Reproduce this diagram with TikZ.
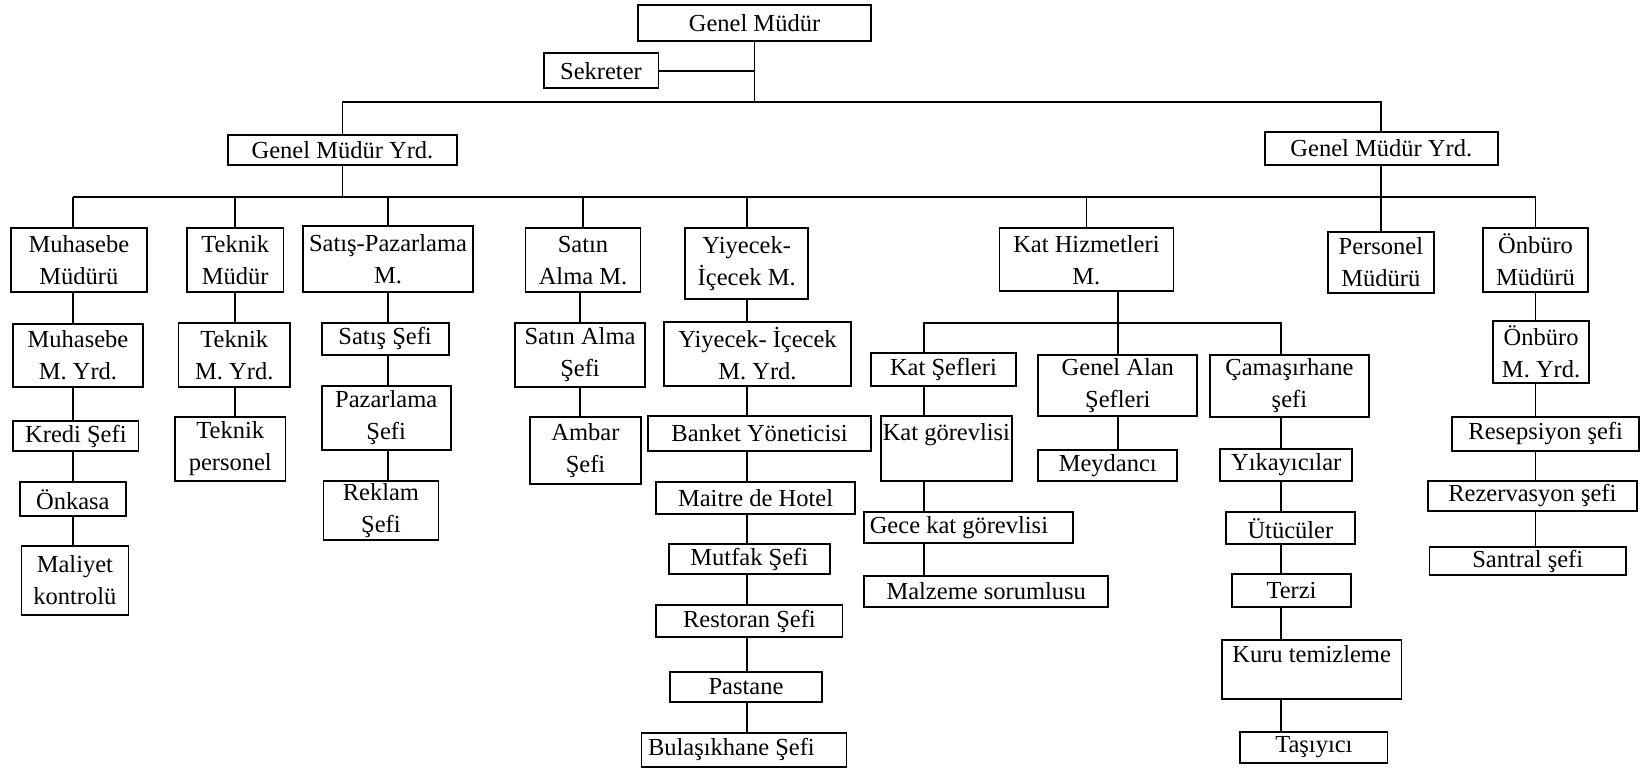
\documentclass[tikz,border=0pt]{standalone}
\usepackage{fontspec}
\setmainfont{Liberation Serif}
\usepackage{tikz}

\begin{document}
\begin{tikzpicture}[x=0.5pt, y=-0.5pt, line width=0.9pt,
    font=\fontsize{12.25}{16}\selectfont,
    box/.style={draw, inner sep=1pt, align=center},
    bsize/.style 2 args={minimum width=#1*0.5pt, minimum height=#2*0.5pt}]
        \useasboundingbox (0,0) rectangle (1644,769);
        % Top of the chart
        \node[box, bsize={233.4}{35.4}] (gm) at (754.5,23) {Genel Müdür};
        \node[box, bsize={114.8}{34.7}] (sek) at (601,70.7) {Sekreter};
        \node[box, bsize={229}{29.7}] (gmyL) at (342.5,150.2) {Genel Müdür Yrd.};
        \node[box, bsize={233}{33.3}] (gmyR) at (1381.3,148.4) {Genel Müdür Yrd.};
        % Department managers
        \node[box, bsize={135.4}{63.7}] (muh) at (78.9,260.2) {Muhasebe\\Müdürü};
        \node[box, bsize={96.4}{64}] (tek) at (235.2,260) {Teknik\\Müdür};
        \node[box, bsize={170.5}{65.7}] (sp) at (388,259.2) {Satış-Pazarlama\\M.};
        \node[box, bsize={114.9}{63.7}] (sa) at (583,260.2) {Satın\\Alma M.};
        \node[box, bsize={122.9}{71}] (yi) at (746.7,263.8) {Yiyecek-\\İçecek M.};
        \node[box, bsize={174}{62.7}] (kh) at (1086.4,259.7) {Kat Hizmetleri\\M.};
        \node[box, bsize={106.4}{61.6}] (per) at (1380.9,262.5) {Personel\\Müdürü};
        \node[box, bsize={105}{63.7}] (onb) at (1535.5,260.2) {Önbüro\\Müdürü};
        % Muhasebe
        \node[box, bsize={129.5}{62.4}] (muhy) at (78,355.5) {Muhasebe\\M. Yrd.};
        \node[box, bsize={125.2}{30.3}] (kredi) at (75.9,436.2) {Kredi Şefi};
        \node[box, bsize={106.3}{33.7}] (onk) at (72.8,499.2) {Önkasa};
        \node[box, bsize={107}{69}] (mal) at (74.9,580.2) {Maliyet\\kontrolü};
        % Teknik
        \node[box, bsize={111.6}{64}] (teky) at (234.3,354.7) {Teknik\\M. Yrd.};
        \node[box, bsize={110.5}{63.7}] (tekp) at (230.3,448.9) {Teknik\\personel};
        % Satis-Pazarlama
        \node[box, bsize={127}{32}] (sats) at (385.1,338.7) {Satış Şefi};
        \node[box, bsize={129}{63.4}] (paz) at (386.2,418) {Pazarlama\\Şefi};
        \node[box, bsize={115}{59.6}] (rek) at (380.9,510.5) {Reklam\\Şefi};
        % Satin Alma
        \node[box, bsize={129.4}{64}] (sas) at (580,354.7) {Satın Alma\\Şefi};
        \node[box, bsize={111}{67}] (amb) at (585.5,450.5) {Ambar\\Şefi};
        % Yiyecek-Icecek
        \node[box, bsize={186.4}{64.3}] (yiy) at (757.5,353.9) {Yiyecek- İçecek\\M. Yrd.};
        \node[box, bsize={222.8}{35.3}] (ban) at (759.6,433.4) {Banket Yöneticisi};
        \node[box, bsize={198.5}{31.7}] (mai) at (755.6,498.2) {Maitre de Hotel};
        \node[box, bsize={161.3}{30}] (mut) at (749.3,559) {Mutfak Şefi};
        \node[box, bsize={186.2}{32}] (res) at (749.4,621) {Restoran Şefi};
        \node[box, bsize={151.5}{30.3}] (pas) at (746,686.9) {Pastane};
        \node[box, bsize={204.9}{34.3}, align=flush left, text width=96pt, inner xsep=3pt]
          (bul) at (744,749.9) {Bulaşıkhane Şefi};
        % Kat Hizmetleri
        \node[box, bsize={145.3}{33.3}] (ks) at (943.4,369.4) {Kat Şefleri};
        \node[box, bsize={129.3}{64.7}] (kg) at (946.4,448.4) {Kat görevlisi\\\mbox{}};
        \node[box, bsize={209}{31}, align=flush left, text width=99pt, inner xsep=2.5pt]
          (gkg) at (968.8,527.8) {Gece kat görevlisi};
        \node[box, bsize={243.7}{31}] (mz) at (986.2,591.2) {Malzeme sorumlusu};
        \node[box, bsize={159}{61.3}] (gas) at (1117.8,385.4) {Genel Alan\\Şefleri};
        \node[box, bsize={139}{31}] (mey) at (1107.8,465.5) {Meydancı};
        \node[box, bsize={159.1}{62.6}] (cam) at (1289.4,386) {Çamaşırhane\\şefi};
        \node[box, bsize={132.3}{31.4}] (yik) at (1286.2,465) {Yıkayıcılar};
        \node[box, bsize={129.1}{31.7}] (utu) at (1290.4,528.2) {Ütücüler};
        \node[box, bsize={118.6}{33.3}] (ter) at (1291.5,590.4) {Terzi};
        \node[box, bsize={179.9}{59.3}] (kuru) at (1311.6,669.7) {Kuru temizleme\\\mbox{}};
        \node[box, bsize={147.3}{31}] (tas) at (1313.9,747.2) {Taşıyıcı};
        % Onburo
        \node[box, bsize={95.8}{61.7}] (onby) at (1541.1,352.2) {Önbüro\\M. Yrd.};
        \node[box, bsize={186.7}{34}] (rsp) at (1545.7,434) {Resepsiyon şefi};
        \node[box, bsize={209.4}{30}] (rez) at (1532.4,495.7) {Rezervasyon şefi};
        \node[box, bsize={196.3}{28.3}] (san) at (1527.7,561.2) {Santral şefi};

        % Bus lines
        \coordinate (bus1) at (0,102);
        \coordinate (bus2) at (0,196.7);
        \coordinate (kbusL) at (924.3,322.7);
        \coordinate (kbusR) at (1281,322.7);

        \draw (gm.south) -- (gm.south |- bus1);
        \draw (sek.east) -- (sek.east -| gm.south);
        \draw (gmyL.north) -- (gmyL.north |- bus1) -- (gmyR.north |- bus1) -- (gmyR.north);
        \draw (gmyL.south) -- (gmyL.south |- bus2);
        \draw (gmyR.south) -- (gmyR.south |- per.north);
        \draw (bus2 -| onk) -- (bus2 -| onb);
        \draw (muh.north -| onk) -- (bus2 -| onk);
        \draw (tek.north) -- (tek.north |- bus2);
        \draw (sp.north) -- (sp.north |- bus2);
        \draw (sa.north) -- (sa.north |- bus2);
        \draw (yi.north) -- (yi.north |- bus2);
        \draw (kh.north) -- (kh.north |- bus2);
        \draw (onb.north) -- (onb.north |- bus2);

        % Muhasebe links
        \draw (muh.south -| onk) -- (muhy.north -| onk);
        \draw (muhy.south -| onk) -- (kredi.north -| onk);
        \draw (kredi.south -| onk) -- (onk.north);
        \draw (onk.south) -- (mal.north -| onk);
        % Teknik links
        \draw (tek.south) -- (tek.south |- teky.north);
        \draw (teky.south -| tek) -- (tekp.north -| tek);
        % Satis links
        \draw (sp.south) -- (sp.south |- sats.north);
        \draw (sats.south -| sp) -- (paz.north -| sp);
        \draw (paz.south -| sp) -- (rek.north -| sp);
        % Satin Alma links
        \draw (sa.south -| sas) -- (sas.north);
        \draw (sas.south) -- (sas.south |- amb.north);
        % Yiyecek links
        \draw (yi.south) -- (yi.south |- yiy.north);
        \draw (yiy.south -| yi) -- (ban.north -| yi);
        \draw (ban.south -| yi) -- (mai.north -| yi);
        \draw (mai.south -| yi) -- (mut.north -| yi);
        \draw (mut.south -| yi) -- (res.north -| yi);
        \draw (res.south -| yi) -- (pas.north -| yi);
        \draw (pas.south -| yi) -- (bul.north -| yi);
        % Kat Hizmetleri links
        \draw (kh.south -| gas) -- (gas.north);
        \draw (kbusL |- ks.north) -- (kbusL) -- (kbusR) -- (kbusR |- cam.north);
        \draw (ks.south -| kbusL) -- (kg.north -| kbusL);
        \draw (kg.south -| kbusL) -- (gkg.north -| kbusL);
        \draw (gkg.south -| kbusL) -- (mz.north -| kbusL);
        \draw (gas.south) -- (gas.south |- mey.north);
        \draw (cam.south -| kbusR) -- (yik.north -| kbusR);
        \draw (yik.south -| kbusR) -- (utu.north -| kbusR);
        \draw (utu.south -| kbusR) -- (ter.north -| kbusR);
        \draw (ter.south -| kbusR) -- (kuru.north -| kbusR);
        \draw (kuru.south -| kbusR) -- (tas.north -| kbusR);
        % Onburo links
        \draw (onb.south) -- (onb.south |- onby.north);
        \draw (onby.south -| onb) -- (rsp.north -| onb);
        \draw (rsp.south -| onb) -- (rez.north -| onb);
        \draw (rez.south -| onb) -- (san.north -| onb);
      \end{tikzpicture}
\end{document}
